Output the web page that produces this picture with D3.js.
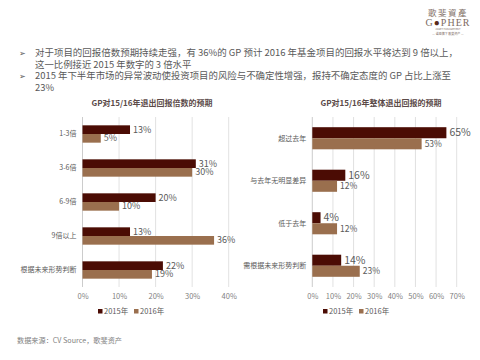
<!DOCTYPE html>
<html><head><meta charset="utf-8">
<script src="https://cdn.jsdelivr.net/npm/d3@7"></script>
<style>body{margin:0;background:#fff}svg{display:block}</style>
</head><body>
<script>
const leftCategories = ["1-3倍","3-6倍","6-9倍","9倍以上","根据未来形势判断"];
const left2015 = [13,31,20,13,22];
const left2016 = [5,30,10,36,19];
const leftTicks = [0,10,20,30,40];
const rightCategories = ["超过去年","与去年无明显差异","低于去年","需根据未来形势判断"];
const right2015 = [65,16,4,14];
const right2016 = [53,12,12,23];
const rightTicks = [0,10,20,30,40,50,60,70];
const seriesNames = ["2015年","2016年"];
const colors = ["#4b0c04","#9a6f4e"];
const bullets = [
  ["对于项目的回报倍数预期持续走强，有 36%的 GP 预计 2016 年基金项目的回报水平将达到 9 倍以上，","这一比例接近 2015 年数字的 3 倍水平"],
  ["2015 年下半年市场的异常波动使投资项目的风险与不确定性增强，报持不确定态度的 GP 占比上涨至","23%"]
];

const font = "'Noto Sans CJK SC','Noto Sans',sans-serif";
const svg = d3.select("body").append("svg").attr("width",480).attr("height",360)
  .style("font-family",font);

// logo
const logo = svg.append("g").attr("fill","#7d6b62");
logo.append("text").attr("x",448).attr("y",16).attr("text-anchor","middle")
  .attr("font-size",8.5).attr("letter-spacing",1.5).text("歌斐資產");
const gt = logo.append("text").attr("x",448).attr("y",26).attr("text-anchor","middle")
  .attr("font-size",10).attr("font-family","'Liberation Serif',serif").attr("letter-spacing",1);
gt.append("tspan").text("G");
gt.append("tspan").attr("fill","#5a2a1a").text("●");
gt.append("tspan").text("PHER");
logo.append("text").attr("x",448).attr("y",30).attr("text-anchor","middle")
  .attr("font-size",2.5).text("ASSET MANAGEMENT");
logo.append("text").attr("x",448).attr("y",35).attr("text-anchor","middle")
  .attr("font-size",3).text("— 诺亚旗下 歌斐资产 —");

// bullets
const by = [56,67.5,79,90.5];
const lens = [423,null,416,null];
let k=0;
bullets.forEach(b=>{
  svg.append("text").attr("x",19).attr("y",by[k]).attr("font-size",8).attr("fill","#555").text("➢");
  b.forEach(line=>{
    const t = svg.append("text").attr("x",35).attr("y",by[k]).attr("font-size",9.4).attr("fill","#595959").text(line);
    if(lens[k]) t.attr("textLength",lens[k]).attr("lengthAdjust","spacingAndGlyphs");
    k++;
  });
});

function chart(cfg){
  const g = svg.append("g");
  const x = d3.scaleLinear().domain([0,cfg.max]).range([cfg.x0,cfg.x1]);
  const y = d3.scaleBand().domain(cfg.cats).range([117,287]).paddingInner(cfg.pad).paddingOuter(cfg.pad/2);
  const sub = d3.scaleBand().domain([0,1]).range([0,y.bandwidth()]);
  // grid
  g.selectAll(".grid").data(cfg.ticks).join("line")
    .attr("x1",d=>x(d)).attr("x2",d=>x(d)).attr("y1",117).attr("y2",287)
    .attr("stroke",d=>d===0?"#bfbfbf":"#d9d9d9").attr("stroke-width",0.8);
  // axis tick labels
  const ax = d3.axisBottom(x).tickValues(cfg.ticks).tickFormat(d=>d+"%").tickSize(0).tickPadding(6);
  const axg = g.append("g").attr("transform","translate(0,288)").call(ax);
  axg.select(".domain").remove();
  axg.selectAll("text").attr("font-size",7.5).attr("fill","#7f7f7f").attr("font-family",font);
  // category labels
  const ay = d3.axisLeft(y).tickSize(0).tickPadding(6);
  const ayg = g.append("g").attr("transform",`translate(${cfg.x0},0)`).call(ay);
  ayg.select(".domain").remove();
  ayg.selectAll("text").attr("font-size",7).attr("fill","#595959").attr("font-family",font);
  // bars
  [cfg.s1,cfg.s2].forEach((vals,si)=>{
    g.selectAll(".b"+si).data(vals).join("rect")
      .attr("x",x(0)).attr("y",(d,i)=>y(cfg.cats[i])+sub(si))
      .attr("width",d=>x(d)-x(0)).attr("height",sub.bandwidth())
      .attr("fill",colors[si]);
    g.selectAll(".l"+si).data(vals).join("text")
      .attr("x",d=>x(d)+3).attr("y",(d,i)=>y(cfg.cats[i])+sub(si)+sub.bandwidth()/2)
      .attr("dy","0.35em").attr("font-size",cfg.fs[si]).attr("fill","#595959")
      .text(d=>d+"%");
  });
  // title
  g.append("text").attr("x",cfg.tx).attr("y",106).attr("text-anchor","middle")
    .attr("font-size",8).attr("font-weight","bold").attr("fill","#5b4a48").text(cfg.title);
  // legend
  const lg = g.append("g");
  seriesNames.forEach((n,i)=>{
    lg.append("rect").attr("x",cfg.lx[i]).attr("y",309).attr("width",4.5).attr("height",4.5).attr("fill",colors[i]);
    lg.append("text").attr("x",cfg.lx[i]+6).attr("y",314).attr("font-size",7.5).attr("fill","#595959").text(n);
  });
}

chart({cats:leftCategories,s1:left2015,s2:left2016,ticks:leftTicks,max:40,x0:82.5,x1:228.7,pad:0.49,
  fs:[9,9],title:"GP对15/16年退出回报倍数的预期",tx:152,lx:[98,134]});
chart({cats:rightCategories,s1:right2015,s2:right2016,ticks:rightTicks,max:70,x0:312.3,x1:456.7,pad:0.48,
  fs:[10.5,8.5],title:"GP对15/16年整体退出回报的预期",tx:381,lx:[323,359]});

svg.append("text").attr("x",17).attr("y",343).attr("font-size",7.3).attr("fill","#7f7f7f")
  .attr("textLength",105).attr("lengthAdjust","spacingAndGlyphs")
  .text("数据来源：CV Source，歌斐资产");
</script>
</body></html>
